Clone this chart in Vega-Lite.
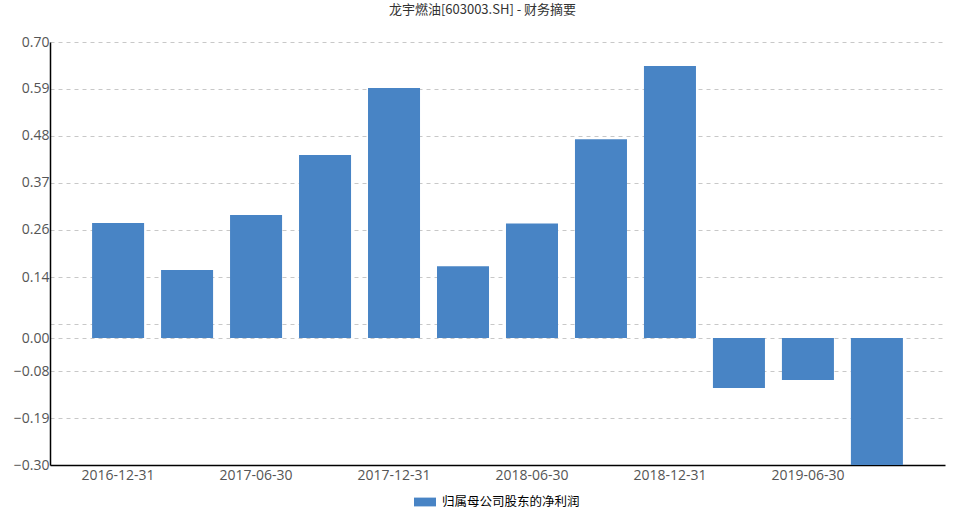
{
  "$schema": "https://vega.github.io/schema/vega-lite/v6.json",
  "width": 895,
  "height": 423,
  "autosize": {"type": "none"},
  "padding": {"left": 50, "top": 42, "right": 20, "bottom": 59},
  "background": "white",
  "title": {
    "text": "龙宇燃油[603003.SH] - 财务摘要",
    "font": "Noto Sans CJK SC",
    "fontSize": 13,
    "fontWeight": "normal",
    "color": "#333333",
    "anchor": "middle",
    "frame": "group",
    "dx": -15,
    "offset": 18
  },
  "config": {
    "view": {"stroke": null},
    "font": "Noto Sans CJK SC"
  },
  "data": {
    "values": [
      {"date": "2016-12-31", "value": 0.272, "series": "归属母公司股东的净利润"},
      {"date": "2017-03-31", "value": 0.161, "series": "归属母公司股东的净利润"},
      {"date": "2017-06-30", "value": 0.291, "series": "归属母公司股东的净利润"},
      {"date": "2017-09-30", "value": 0.433, "series": "归属母公司股东的净利润"},
      {"date": "2017-12-31", "value": 0.591, "series": "归属母公司股东的净利润"},
      {"date": "2018-03-31", "value": 0.170, "series": "归属母公司股东的净利润"},
      {"date": "2018-06-30", "value": 0.271, "series": "归属母公司股东的净利润"},
      {"date": "2018-09-30", "value": 0.470, "series": "归属母公司股东的净利润"},
      {"date": "2018-12-31", "value": 0.643, "series": "归属母公司股东的净利润"},
      {"date": "2019-03-31", "value": -0.118, "series": "归属母公司股东的净利润"},
      {"date": "2019-06-30", "value": -0.099, "series": "归属母公司股东的净利润"},
      {"date": "2019-09-30", "value": -0.300, "series": "归属母公司股东的净利润"}
    ]
  },
  "mark": {"type": "bar", "clip": true},
  "encoding": {
    "x": {
      "field": "date",
      "type": "ordinal",
      "sort": null,
      "scale": {"paddingInner": 0.246, "paddingOuter": 0.61},
      "axis": {
        "title": null,
        "values": ["2016-12-31", "2017-06-30", "2017-12-31", "2018-06-30", "2018-12-31", "2019-06-30"],
        "labelAngle": 0,
        "labelFont": "Open Sans",
        "labelFontSize": 14,
        "labelColor": "#555555",
        "labelPadding": 3,
        "ticks": false,
        "domainColor": "#000000",
        "domainWidth": 1.5,
        "grid": false
      }
    },
    "y": {
      "field": "value",
      "type": "quantitative",
      "scale": {"domain": [-0.3, 0.7], "nice": false, "zero": false},
      "axis": {
        "title": null,
        "values": [-0.3, -0.189, -0.078, 0, 0.033, 0.144, 0.256, 0.367, 0.478, 0.589, 0.7],
        "labelExpr": "abs(datum.value - 0.033) < 0.001 ? '' : format(datum.value, '.2f')",
        "labelFont": "Open Sans",
        "labelFontSize": 14,
        "labelColor": "#555555",
        "labelPadding": 1,
        "ticks": false,
        "domainColor": "#000000",
        "domainWidth": 1.5,
        "grid": true,
        "gridColor": "#c8c8c8",
        "gridDash": [4, 4],
        "gridWidth": 1
      }
    },
    "color": {
      "field": "series",
      "type": "nominal",
      "scale": {"range": ["#4884c5"]},
      "legend": {
        "title": null,
        "orient": "none",
        "legendX": 364,
        "legendY": 449,
        "symbolType": "M-1,-0.4L1,-0.4L1,0.4L-1,0.4Z",
        "symbolSize": 484,
        "symbolStrokeWidth": 0,
        "symbolOpacity": 1,
        "labelFontSize": 12.5,
        "labelColor": "#000000",
        "labelOffset": 6,
        "labelLimit": 300
      }
    }
  }
}
